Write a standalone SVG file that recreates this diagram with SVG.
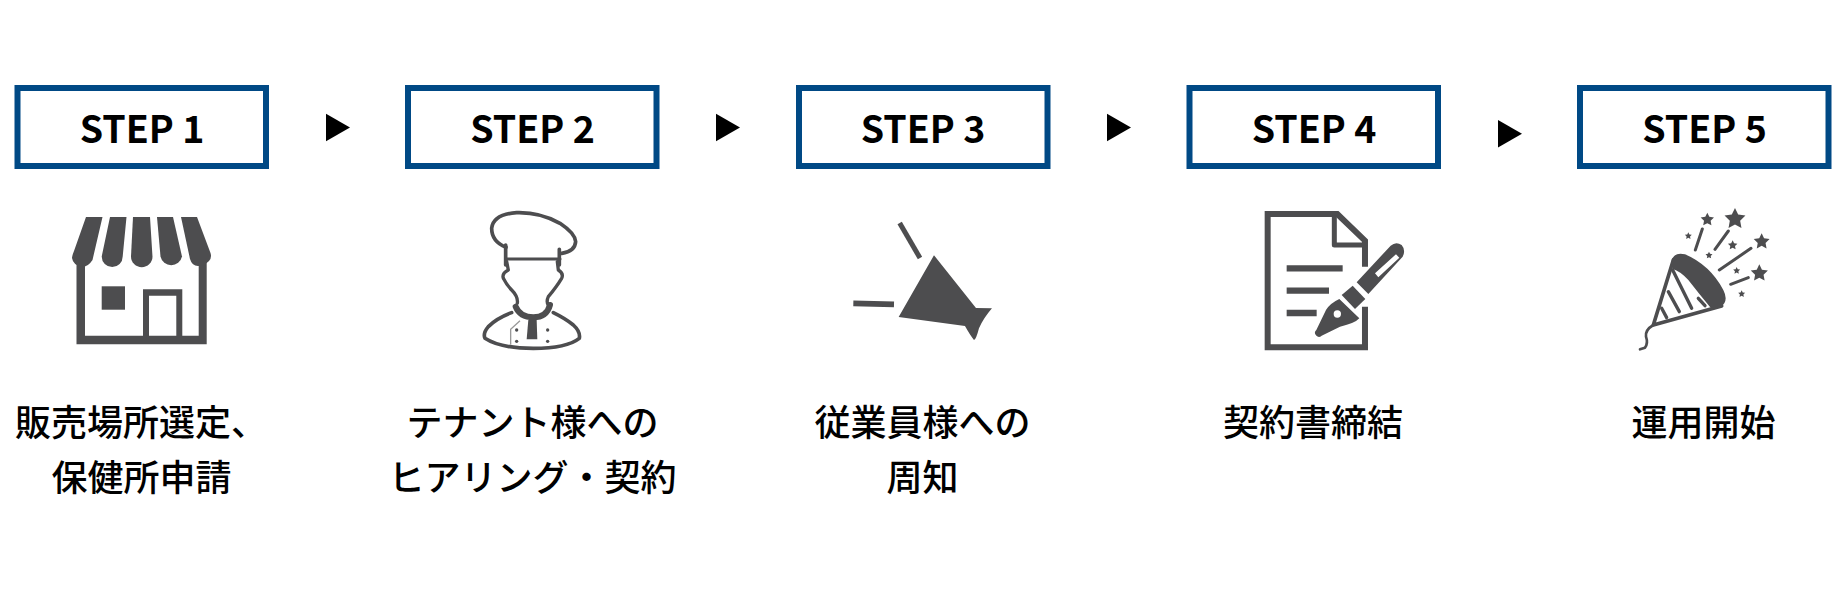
<svg xmlns="http://www.w3.org/2000/svg" xmlns:xlink="http://www.w3.org/1999/xlink" width="1844" height="600" viewBox="0 0 1844 600">
<style>
.box{fill:#fff;stroke:#004985;stroke-width:6}
.step{font:700 37.5px "Noto Sans CJK JP","Noto Sans",sans-serif;fill:#000;text-anchor:middle}
.cap{font:500 36px "Noto Sans CJK JP",sans-serif;fill:#000;text-anchor:middle}
.ic{fill:#4d4d4f}
.ln{fill:none;stroke:#4d4d4f;stroke-linecap:round;stroke-linejoin:round}
.ar{fill:#000}
</style>
<defs>
<polygon id="star" points="0,-1 .29,-.4 .951,-.309 .47,.153 .588,.809 0,.5 -.588,.809 -.47,.153 -.951,-.309 -.29,-.4"/>
</defs>
<rect width="1844" height="600" fill="#fff"/>
<g id="connectors">
<polygon class="ar" points="326,113.7 350,127.5 326,141.3"/>
<polygon class="ar" points="716,113.7 740,127.5 716,141.3"/>
<polygon class="ar" points="1107,113.7 1131,127.5 1107,141.3"/>
<polygon class="ar" points="1498,120 1522,133.8 1498,147.6"/>
</g>
<g id="step1">
<rect class="box" x="17.5" y="88" width="248.5" height="78"/>
<text class="step" x="142" y="142.500">STEP 1</text>
<g class="ic">
<path d="M86 217H102.5L92.5 260Q88 267 82 267Q73 265 72 258Q72 256 74 251Z"/>
<path d="M110 217H126.5L122.7 256.5A10.5 10.5 0 0 1 101.7 256.5Z"/>
<path d="M133 217H150L152.5 256.5A10.7 10.7 0 0 1 131 256.5Z"/>
<path d="M157 217H173L182 256.5A11 11 0 0 1 160.5 256.5Z"/>
<path d="M181 217H197L210.5 253Q212 258 209 261Q204 266 198 266Q192 266 190 259Z"/>
<path fill-rule="evenodd" d="M76.5 262H85V335.7H143V289.3H182.3V335.700H198.7V262H206.7V344.3H76.5ZM149 295.7V335.7H176.3V295.7Z"/>
<rect x="101.7" y="286.3" width="23.3" height="23.4"/>
</g>
<text class="cap" x="141" y="436">販売場所選定、</text>
<text class="cap" x="141.500" y="491">保健所申請</text>
</g>
<g id="step2">
<rect class="box" x="408" y="88" width="248.5" height="78"/>
<text class="step" x="532.500" y="142.500">STEP 2</text>
<g transform="translate(440 190) scale(.3333)">
<path class="ln" stroke-width="11" d="M198 172Q155 155 155 115Q160 72 230 68Q300 66 360 100Q405 130 407 155Q405 185 365 190"/>
<path class="ln" stroke-width="9" d="M197 207H360"/>
<path class="ln" stroke-width="11" d="M197 165V225M358 178V225"/>
<path class="ln" stroke-width="10" d="M200 215L205 240Q185 250 190 265Q200 285 215 300Q235 320 232 340M352 215L355 240Q372 250 365 265Q350 290 325 320Q318 335 325 345"/>
<path class="ln" stroke-width="18" d="M227 350Q240 382 280 382Q320 382 330 345"/>
<path class="ln" stroke-width="11" d="M215 368Q170 385 145 410Q128 430 135 445Q180 475 280 475Q380 475 418 445Q422 425 400 405Q375 385 340 368"/>
<polygon class="ic" points="265,390 290,390 292,448 260,448"/>
<path fill="none" stroke="#999" stroke-width="4" d="M240 392L212 418V464"/>
<g class="ic"><circle cx="230" cy="420" r="5"/><circle cx="323" cy="420" r="5"/><circle cx="230" cy="454" r="5"/><circle cx="323" cy="454" r="5"/></g>
</g>
<text class="cap" x="532.500" y="436">テナント様への</text>
<text class="cap" x="532.500" y="491">ヒアリング・契約</text>
</g>
<g id="step3">
<rect class="box" x="799" y="88" width="248.5" height="78"/>
<text class="step" x="923" y="142.500">STEP 3</text>
<g transform="translate(830 200) scale(.3333)">
<path fill="none" stroke="#4d4d4f" stroke-width="15" d="M209 69L270 174"/>
<path fill="none" stroke="#4d4d4f" stroke-width="17" d="M70 310L192 313"/>
<path class="ic" d="M312 166L438 324L486 325Q460 355 447 385Q438 420 432 420Q420 405 405 378L206 351Z"/>
</g>
<text class="cap" x="922.500" y="436">従業員様への</text>
<text class="cap" x="922.500" y="491">周知</text>
</g>
<g id="step4">
<rect class="box" x="1189.500" y="88" width="248.5" height="78"/>
<text class="step" x="1314" y="142.500">STEP 4</text>
<g transform="translate(1240 195) scale(.3333)">
<path fill="none" stroke="#4d4d4f" stroke-width="18" d="M375 215V137L292 57H83V457H375V335"/>
<path fill="none" stroke="#4d4d4f" stroke-width="15" stroke-linejoin="round" d="M283 62V150H372"/>
<path fill="none" stroke="#4d4d4f" stroke-width="19" d="M140 220H308M140 287H267M140 354H230"/>
<g class="ic">
<path fill-rule="evenodd" d="M350 262L452 152Q468 138 485 150Q498 165 488 185L385 297ZM405 235L415 247L478 188L468 178Z"/>
<path d="M305 300L338 272L376 312L345 342Z"/>
<path d="M298 312L358 370Q345 385 300 395L245 422A9 9 0 1 1 229 405L258 345Q270 325 298 312Z"/>
</g>
<circle cx="292" cy="357" r="11" fill="#fff"/>
</g>
<text class="cap" x="1313" y="436">契約書締結</text>
</g>
<g id="step5">
<rect class="box" x="1580" y="88" width="248.5" height="78"/>
<text class="step" x="1704.500" y="142.500">STEP 5</text>
<g transform="translate(1620 195) scale(.3333)">
<path class="ln" stroke-width="11" d="M100 390L160 195M100 390L305 333"/>
<path class="ic" d="M155 195Q165 170 195 178Q270 210 310 285Q328 320 300 338L272 338Q240 300 205 255Q180 228 158 222Z"/>
<path class="ln" stroke-width="10" d="M158 225L215 340M145 290L178 350M125 340L140 368M235 310L255 332"/>
<path class="ln" stroke-width="8" d="M100 390Q75 405 78 425Q85 445 75 458L60 463"/>
<path class="ln" stroke-width="9" d="M247 102L226 165M325 108L285 163M393 160L298 225M385 248L332 268"/>
<g class="ic">
<use xlink:href="#star" href="#star" transform="translate(345 72) scale(33)"/>
<use xlink:href="#star" href="#star" transform="translate(425 140) scale(25)"/>
<use xlink:href="#star" href="#star" transform="translate(418 235) scale(27)"/>
<use xlink:href="#star" href="#star" transform="translate(262 74) scale(21)"/>
<use xlink:href="#star" href="#star" transform="translate(338 151) scale(15)"/>
<use xlink:href="#star" href="#star" transform="translate(205 123) scale(11)"/>
<use xlink:href="#star" href="#star" transform="translate(267 181) scale(11)"/>
<use xlink:href="#star" href="#star" transform="translate(350 227) scale(11)"/>
<use xlink:href="#star" href="#star" transform="translate(365 297) scale(11)"/>
</g>
</g>
<text class="cap" x="1703.500" y="436">運用開始</text>
</g>
</svg>
